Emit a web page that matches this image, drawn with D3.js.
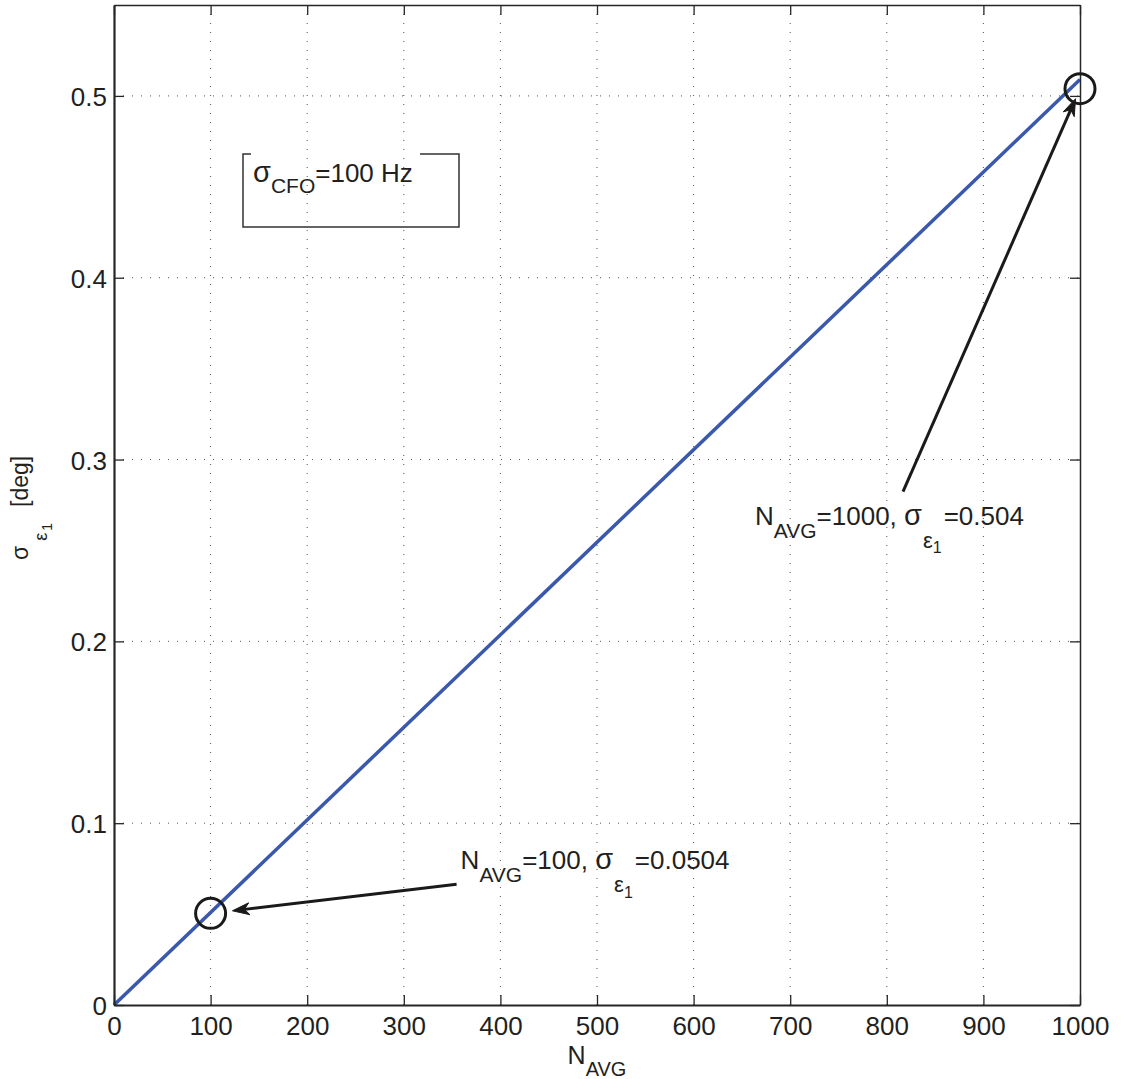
<!DOCTYPE html>
<html>
<head>
<meta charset="utf-8">
<script src="https://cdn.jsdelivr.net/npm/d3@7/dist/d3.min.js"></script>
<style>
  html, body { margin: 0; padding: 0; background: #fff; }
  svg { display: block; font-family: "Liberation Sans", Arial, Helvetica, sans-serif; }
</style>
</head>
<body>
<svg id="chart" width="1122" height="1079"></svg>
<script>
// Averaging length vs. residual phase error std
const nAvg = [0, 1000];
const sigmaEps = [0, 0.509];

// Highlighted operating points
const markN = [100, 1000];
const markSigma = [0.0504, 0.504];

// Axis ticks
const xTicks = [0, 100, 200, 300, 400, 500, 600, 700, 800, 900, 1000];
const xTickLabels = ["0", "100", "200", "300", "400", "500", "600", "700", "800", "900", "1000"];
const yTicks = [0, 0.1, 0.2, 0.3, 0.4, 0.5];
const yTickLabels = ["0", "0.1", "0.2", "0.3", "0.4", "0.5"];

// Legend-like note
const cfoNote = ["σ", "CFO", "=100 Hz"];

const svg = d3.select("#chart");
const W = 1122, H = 1079;
const plot = { left: 114, right: 1080, top: 5, bottom: 1005 };

svg.append("rect").attr("width", W).attr("height", H).attr("fill", "#fff");

const x = d3.scaleLinear().domain([0, 1000]).range([plot.left, plot.right]);
const y = d3.scaleLinear().domain([0, 0.55]).range([plot.bottom, plot.top]);

// Dotted grid
const grid = svg.append("g").attr("stroke", "#555").attr("stroke-width", 1)
  .attr("stroke-dasharray", "1,8");
grid.selectAll("line.gx").data(xTicks.slice(1, -1)).join("line")
  .attr("x1", d => x(d)).attr("x2", d => x(d))
  .attr("y1", plot.bottom).attr("y2", plot.top);
grid.selectAll("line.gy").data(yTicks.slice(1)).join("line")
  .attr("y1", d => y(d)).attr("y2", d => y(d))
  .attr("x1", plot.left).attr("x2", plot.right);

// Data line
const pts = nAvg.map((n, i) => [n, sigmaEps[i]]);
svg.append("path")
  .datum(pts)
  .attr("fill", "none")
  .attr("stroke", "#3a58ac")
  .attr("stroke-width", 3.5)
  .attr("d", d3.line().x(d => x(d[0])).y(d => y(d[1])));

// Axes (ticks point inward, box on all four sides)
const tickLen = 10;
const styleAxis = (g, w) => {
  g.select(".domain").attr("stroke", "#262626").attr("stroke-width", w);
  g.selectAll(".tick line").attr("stroke", "#262626").attr("stroke-width", 1.3);
  g.selectAll(".tick text").attr("fill", "#231f20").attr("font-size", 26)
    .attr("font-family", "'Liberation Sans', Arial, sans-serif");
};

const xAxis = svg.append("g").attr("transform", `translate(0,${plot.bottom})`)
  .call(d3.axisBottom(x).tickValues(xTicks).tickSize(-tickLen).tickSizeOuter(0)
    .tickPadding(12).tickFormat((d, i) => xTickLabels[i]));
styleAxis(xAxis, 2);

const yAxis = svg.append("g").attr("transform", `translate(${plot.left},0)`)
  .call(d3.axisLeft(y).tickValues(yTicks).tickSize(-tickLen).tickSizeOuter(0)
    .tickPadding(7).tickFormat((d, i) => yTickLabels[i]));
styleAxis(yAxis, 2.2);
yAxis.selectAll(".tick text").attr("dy", "0.37em");

const xTop = svg.append("g").attr("transform", `translate(0,${plot.top})`)
  .call(d3.axisTop(x).tickValues(xTicks).tickSize(-tickLen).tickSizeOuter(0).tickFormat(""));
styleAxis(xTop, 1.5);

const yRight = svg.append("g").attr("transform", `translate(${plot.right},0)`)
  .call(d3.axisRight(y).tickValues(yTicks).tickSize(-tickLen).tickSizeOuter(0).tickFormat(""));
styleAxis(yRight, 1.5);

// Axis titles
const xLabel = svg.append("text").attr("x", x(500)).attr("y", 1064)
  .attr("text-anchor", "middle").attr("fill", "#231f20").attr("font-size", 25);
xLabel.append("tspan").text("N");
xLabel.append("tspan").attr("font-size", 20).attr("dy", 12).text("AVG");

const yLabel = svg.append("text")
  .attr("transform", "translate(28,560) rotate(-90)")
  .attr("fill", "#231f20").attr("font-size", 23);
yLabel.append("tspan").text("σ");
yLabel.append("tspan").attr("font-size", 18).attr("dx", 5).attr("dy", 19).text("ε");
yLabel.append("tspan").attr("font-size", 14).attr("dx", 2).attr("dy", 5).text("1");
yLabel.append("tspan").attr("dx", 16).attr("dy", -24).text("[deg]");

// CFO note box
const box = { x: 243, y: 154, w: 216, h: 73, gapFrom: 251, gapTo: 420 };
const boxG = svg.append("g").attr("stroke", "#333").attr("stroke-width", 1.5).attr("fill", "none");
boxG.append("path").attr("d",
  `M${box.gapFrom},${box.y} H${box.x} V${box.y + box.h} H${box.x + box.w} V${box.y} H${box.gapTo}`);
const cfoText = svg.append("text").attr("x", 253).attr("y", 182)
  .attr("fill", "#231f20").attr("font-size", 26);
cfoText.append("tspan").attr("font-size", 29).text(cfoNote[0]);
cfoText.append("tspan").attr("font-size", 21).attr("dy", 11).text(cfoNote[1]);
cfoText.append("tspan").attr("dy", -11).text(cfoNote[2]);

// Circled points with arrow callouts
const callouts = [
  { labelDx: 250, labelDy: -44, tailDx: -4, tailDy: 15, tipDist: 22 },
  { labelDx: -325, labelDy: 436, tailDx: 148, tailDy: -33, tipDist: 11 }
];

markN.forEach((n, i) => {
  const cx = x(n), cy = y(markSigma[i]);
  const c = callouts[i];
  const lx = cx + c.labelDx, ly = cy + c.labelDy;

  svg.append("circle").attr("cx", cx).attr("cy", cy).attr("r", 15)
    .attr("fill", "none").attr("stroke", "#1a1a1a").attr("stroke-width", 3);

  const t = svg.append("text").attr("x", lx).attr("y", ly)
    .attr("fill", "#231f20").attr("font-size", 26);
  t.append("tspan").text("N");
  t.append("tspan").attr("font-size", 21).attr("dy", 13).text("AVG");
  t.append("tspan").attr("dy", -13).text(`=${n}, `);
  t.append("tspan").attr("font-size", 29).text("σ");
  t.append("tspan").attr("font-size", 22).attr("dx", 1).attr("dy", 23).text("ε");
  t.append("tspan").attr("font-size", 16).attr("dy", 5.5).text("1");
  t.append("tspan").attr("dx", 2).attr("dy", -28.5).text(`=${markSigma[i]}`);

  // Arrow from the label towards the circle
  const tx = lx + c.tailDx, ty = ly + c.tailDy;
  let ux = cx - tx, uy = cy - ty;
  const len = Math.hypot(ux, uy);
  ux /= len; uy /= len;
  const px = cx - ux * c.tipDist, py = cy - uy * c.tipDist;
  const nx = -uy, ny = ux;
  const L = 17, Wd = 6, notch = 5;
  const bx = px - ux * L, by = py - uy * L;
  const mx = px - ux * (L - notch), my = py - uy * (L - notch);

  svg.append("line").attr("x1", tx).attr("y1", ty).attr("x2", mx).attr("y2", my)
    .attr("stroke", "#1a1a1a").attr("stroke-width", 3);
  svg.append("path")
    .attr("d", `M${px},${py} L${bx + nx * Wd},${by + ny * Wd} L${mx},${my} L${bx - nx * Wd},${by - ny * Wd} Z`)
    .attr("fill", "#1a1a1a").attr("stroke", "#1a1a1a").attr("stroke-width", 1);
});
</script>
</body>
</html>
